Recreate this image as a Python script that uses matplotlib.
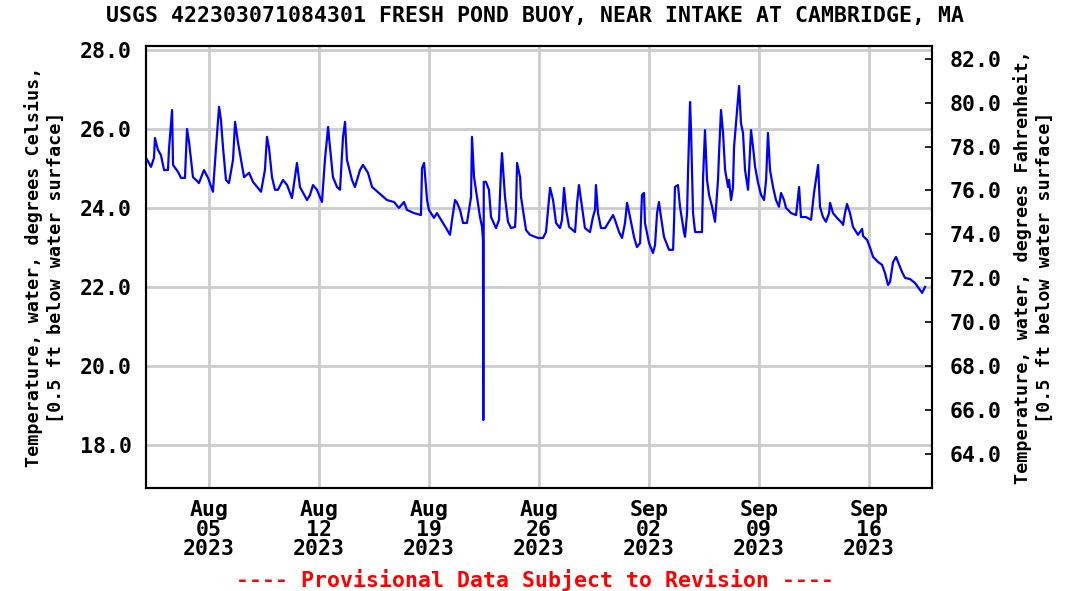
import pandas as pd
import matplotlib
matplotlib.use('Agg')
import matplotlib.pyplot as plt

# ==================================================
#   Data: days since 2023-08-01 00:00, water temperature (deg C)
start = pd.Timestamp('2023-08-01')

days = [0.00, 0.32, 0.51, 0.57, 0.76, 0.95, 1.15, 1.40, 1.46, 1.66, 1.72, 2.04, 2.23, 2.48,
        2.61, 2.74, 2.99, 3.18, 3.37, 3.69, 3.95, 4.26, 4.46, 4.65, 4.77, 4.90, 5.09, 5.28,
        5.54, 5.67, 5.86, 6.05, 6.24, 6.56, 6.81, 7.32,
        7.57, 7.70, 7.83, 8.02, 8.21, 8.40, 8.72, 8.98, 9.29, 9.61, 9.80, 10.25, 10.44, 10.63,
        10.88, 11.20, 11.39, 11.59, 11.71, 11.90, 12.16, 12.35, 12.54, 12.67, 12.79, 13.11,
        13.30, 13.62, 13.81, 14.13, 14.39,
        14.96, 15.34, 15.79, 16.10, 16.42, 16.61, 17.06, 17.50, 17.57, 17.70, 17.89, 18.01,
        18.33, 18.52, 18.78, 19.10, 19.35, 19.48, 19.67, 19.80, 19.99, 20.18, 20.43, 20.69,
        20.75, 20.88, 21.07, 21.26, 21.39, 21.45, 21.47, 21.50, 21.64, 21.83,
        21.96, 22.28, 22.47, 22.60, 22.66, 22.85, 23.04, 23.23, 23.49, 23.55, 23.62, 23.81,
        23.87, 24.06, 24.19, 24.44, 24.95, 25.27, 25.46, 25.59, 25.72, 25.91, 26.10, 26.35,
        26.48, 26.61, 26.74, 26.93, 27.31, 27.44, 27.56, 27.75, 27.94, 28.26, 28.45, 28.58,
        28.64, 28.77, 28.96,
        29.22, 29.54, 29.73, 29.85, 30.11, 30.30, 30.49, 30.62, 30.81, 31.06, 31.25, 31.45,
        31.57, 31.70, 31.76, 32.02, 32.27, 32.40, 32.53, 32.65, 32.78, 32.97, 33.29, 33.55,
        33.61, 33.67, 33.86, 33.99, 34.25, 34.31, 34.44, 34.50, 34.63, 34.69, 34.82, 34.95,
        35.39, 35.46, 35.58, 35.71, 35.84, 36.03, 36.22,
        36.41, 36.47, 36.60, 36.73, 36.86, 37.05, 37.11, 37.24, 37.36, 37.43, 37.62, 37.75,
        37.87, 38.00, 38.13, 38.32, 38.38, 38.51, 38.64, 38.77, 38.96, 39.15, 39.34, 39.47,
        39.59, 39.72, 39.91, 40.10, 40.29, 40.42, 40.61, 40.74, 41.06, 41.38, 41.57, 41.69,
        42.01, 42.33, 42.52, 42.78, 42.90, 43.09, 43.28, 43.48,
        43.54, 43.73, 43.98, 44.30, 44.37, 44.49, 44.62, 44.81, 45.00, 45.32, 45.58, 45.64,
        45.90, 46.09, 46.28, 46.60, 46.85, 47.04, 47.23, 47.36, 47.55, 47.74, 47.87, 48.12,
        48.31, 48.63, 48.95, 49.27, 49.40, 49.59]

temp_c = [25.27, 25.04, 25.27, 25.77, 25.47, 25.34, 24.96, 24.96, 25.47, 26.48, 25.09, 24.91, 24.76, 24.76,
          26.00, 25.67, 24.78, 24.71, 24.63, 24.96, 24.76, 24.41, 25.54, 26.56, 26.23, 25.54, 24.71, 24.63,
          25.22, 26.18, 25.65, 25.22, 24.78, 24.89, 24.66, 24.41,
          24.96, 25.80, 25.52, 24.78, 24.46, 24.46, 24.71, 24.58, 24.25, 25.14, 24.53, 24.20, 24.33, 24.58,
          24.46, 24.15, 25.22, 26.05, 25.54, 24.78, 24.53, 24.46, 25.80, 26.18, 25.22, 24.71,
          24.53, 24.96, 25.09, 24.89, 24.53,
          24.33, 24.20, 24.15, 24.00, 24.15, 23.95, 23.87, 23.82, 25.01, 25.14, 24.20, 23.95,
          23.75, 23.87, 23.70, 23.49, 23.32, 23.70, 24.20, 24.13, 23.95, 23.62, 23.62, 24.28,
          25.80, 24.78, 24.28, 23.77, 23.52, 23.19, 18.63, 24.66, 24.66, 24.46,
          23.77, 23.49, 23.70, 25.01, 25.39, 24.28, 23.65, 23.49, 23.52, 23.95, 25.14, 24.78,
          24.28, 23.77, 23.44, 23.32, 23.24, 23.24, 23.39, 23.95, 24.51, 24.20, 23.62, 23.49,
          23.70, 24.51, 23.95, 23.52, 23.39, 24.13, 24.58, 24.03, 23.49, 23.39, 23.77, 23.95,
          24.58, 23.87, 23.49,
          23.49, 23.70, 23.82, 23.70, 23.39, 23.24, 23.62, 24.13, 23.77, 23.27, 23.01, 23.11,
          24.33, 24.38, 23.62, 23.11, 22.86, 23.06, 23.87, 24.15, 23.77, 23.27, 22.94, 22.94,
          23.62, 24.53, 24.58, 24.03, 23.37, 23.27, 23.87, 24.89, 26.68, 26.00, 23.87, 23.39,
          23.39, 24.78, 25.97, 24.71, 24.33, 24.03, 23.65,
          24.71, 25.34, 26.48, 25.90, 24.96, 24.53, 24.71, 24.20, 24.51, 25.54, 26.48, 27.09,
          26.15, 25.90, 24.96, 24.46, 24.89, 25.97, 25.54, 25.04, 24.63, 24.33, 24.20, 24.71,
          25.90, 24.96, 24.53, 24.20, 24.03, 24.38, 24.20, 24.00, 23.87, 23.82, 24.53, 23.77,
          23.77, 23.70, 24.38, 25.09, 24.03, 23.77, 23.65, 23.87,
          24.13, 23.87, 23.75, 23.62, 23.57, 23.87, 24.10, 23.87, 23.52, 23.32, 23.47, 23.29,
          23.19, 22.99, 22.76, 22.63, 22.56, 22.35, 22.05, 22.13, 22.63, 22.76, 22.63, 22.38,
          22.23, 22.20, 22.10, 21.92, 21.85, 22.00]

c_ticks = [18.0, 20.0, 22.0, 24.0, 26.0, 28.0]
f_ticks = [64.0, 66.0, 68.0, 70.0, 72.0, 74.0, 76.0, 78.0, 80.0, 82.0]
title = 'USGS 422303071084301 FRESH POND BUOY, NEAR INTAKE AT CAMBRIDGE, MA'
note = '---- Provisional Data Subject to Revision ----'

# ==================================================
plt.rcParams['font.family'] = ['DejaVu Sans Mono']
plt.rcParams['font.weight'] = 'bold'
plt.rcParams['axes.labelweight'] = 'bold'

times = start + pd.to_timedelta(days, unit='D')

fig = plt.figure(figsize=(10.71, 5.91), dpi=100)
ax = fig.add_axes([146 / 1071, 1 - 488 / 591, 786 / 1071, 442 / 591])

ax.plot(times, temp_c, color='#0000ff', lw=1.6, zorder=3)

ax.set_xlim(start, start + pd.Timedelta(days=50.03))
ax.set_ylim(16.91, 28.10)
ax.set_yticks(c_ticks)
ax.set_yticklabels(['%.1f' % t for t in c_ticks])

ticks = pd.date_range('2023-08-05', '2023-09-16', freq='7D')
ax.set_xticks(ticks)
ax.set_xticklabels([t.strftime('%b\n%d\n%Y') for t in ticks], linespacing=0.95)

ax.grid(True, color='#cccccc', lw=2, zorder=0)
ax.tick_params(axis='both', length=0, labelsize=15.5)
ax.tick_params(axis='x', pad=9)
ax.tick_params(axis='y', pad=10)
for s in ax.spines.values():
    s.set_linewidth(1.5)

ax.set_ylabel('Temperature, water, degrees Celsius,\n[0.5 ft below water surface]',
              fontsize=13.2, linespacing=1.3, labelpad=11)

ax2 = ax.twinx()
ax2.set_ylim(16.91 * 1.8 + 32, 28.10 * 1.8 + 32)
ax2.set_yticks(f_ticks)
ax2.set_yticklabels(['%.1f' % t for t in f_ticks])
ax2.tick_params(axis='y', direction='in', length=5, width=1.2, labelsize=15.5, pad=13)
ax2.set_ylabel('Temperature, water, degrees Fahrenheit,\n[0.5 ft below water surface]',
               fontsize=13.2, linespacing=1.3, labelpad=8)
for s in ax2.spines.values():
    s.set_linewidth(1.5)

fig.text(0.5, 1 - 16 / 591, title, ha='center', va='center', fontsize=15.5)
fig.text(0.5, 1 - 580 / 591, note, ha='center', va='center', fontsize=15.5, color='#ff0000')

fig.savefig('out.png', dpi=100)
